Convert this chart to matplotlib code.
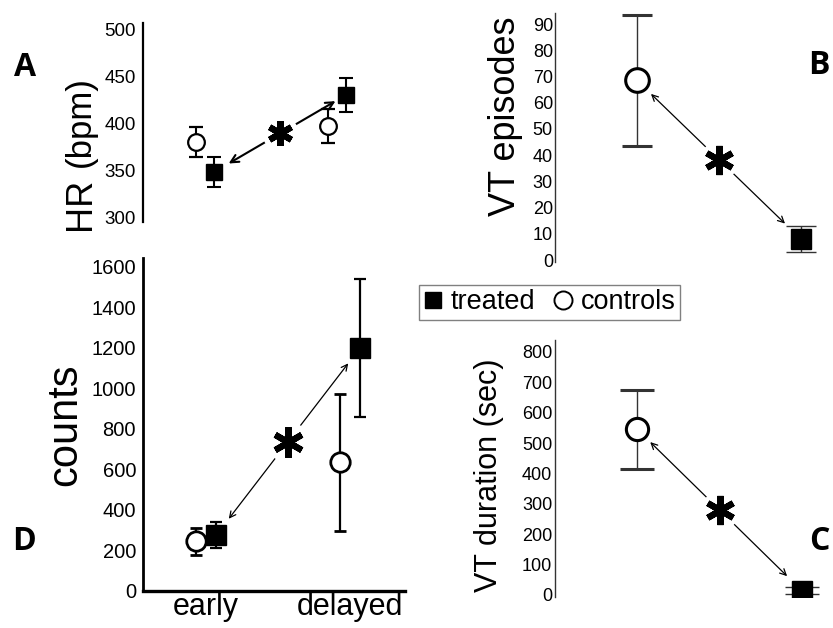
import matplotlib
matplotlib.use("Agg")
import matplotlib.pyplot as plt
from matplotlib.lines import Line2D

plt.rcParams['font.family'] = ['Liberation Sans', 'DejaVu Sans']

# ---- data ----
groups = ['early', 'delayed']

hr_controls = [380, 397]
hr_controls_err = [16, 18]
hr_treated = [348, 430]
hr_treated_err = [16, 18]

count_controls = [245, 635]
count_controls_err = [65, 340]
count_treated = [275, 1200]
count_treated_err = [65, 340]

# B and C: one value per group (controls, treated)
vt_episodes = [68.5, 8]
vt_episodes_err = [25, 5]
vt_duration = [545, 14]
vt_duration_err = [130, 11]

W, H = 833, 628
fig = plt.figure(figsize=(W / 100, H / 100), dpi=100)


def box(l, t, r, b):
    return [l / W, 1 - b / H, (r - l) / W, (b - t) / H]


def clean(ax, spine_lw, spine_col, fs, pad):
    for s in ['top', 'right', 'bottom']:
        ax.spines[s].set_visible(False)
    ax.spines['left'].set_linewidth(spine_lw)
    ax.spines['left'].set_color(spine_col)
    ax.set_xticks([])
    ax.tick_params(axis='y', length=0, labelsize=fs, pad=pad)
    ax.patch.set_alpha(0)


def star(ax, p1, p2, lw, sA, sB, ms, gap, mscale=11):
    ax.annotate('', xy=p2, xytext=p1,
                arrowprops=dict(arrowstyle='<->', color='black', lw=lw,
                                shrinkA=sA, shrinkB=sB, mutation_scale=mscale),
                zorder=2)
    mx, my = (p1[0] + p2[0]) / 2, (p1[1] + p2[1]) / 2
    ax.plot(mx, my, 'o', ms=gap, color='white', mec='none', zorder=3)
    ax.plot(mx, my, marker=(6, 2, 0), ms=ms, mew=4.5, color='black', zorder=4)


xc = [1, 2]
off = 0.07

# ---- A: heart rate ----
axA = fig.add_axes(box(143, 23, 400, 222))
clean(axA, 1.6, 'black', 13.5, 5)
axA.errorbar([x - off for x in xc], hr_controls, yerr=hr_controls_err, fmt='o',
             ms=12, mfc='white', mec='black', mew=1.6, color='black',
             elinewidth=1.5, capsize=4.7, capthick=1.5, zorder=5)
axA.errorbar([x + off for x in xc], hr_treated, yerr=hr_treated_err, fmt='s',
             ms=11, mfc='black', mec='black', color='black',
             elinewidth=1.5, capsize=4.7, capthick=1.5, zorder=5)
axA.set_xlim(0.53, 2.477)
axA.set_ylim(294.7, 506.4)
axA.set_yticks(range(300, 501, 50))
star(axA, (xc[0] + off, hr_treated[0]), (xc[1] + off, hr_treated[1]),
     1.5, 12, 9, 18, 26, 14)

# ---- B: VT episodes ----
axB = fig.add_axes(box(555, 13, 830, 262))
clean(axB, 1.0, '#333333', 13, 1.5)
axB.errorbar([xc[0]], [vt_episodes[0]], yerr=[vt_episodes_err[0]], fmt='o',
             ms=17, mfc='white', mec='black', mew=2.2, color='#333333',
             elinewidth=1.0, capsize=11, capthick=1.0, zorder=5)
axB.errorbar([xc[1]], [vt_episodes[1]], yerr=[vt_episodes_err[1]], fmt='s',
             ms=14, mfc='black', mec='black', color='#333333',
             elinewidth=1.0, capsize=11, capthick=1.0, zorder=5)
axB.set_xlim(0.5, 2.177)
axB.set_ylim(-0.76, 94.2)
axB.set_yticks(range(0, 91, 10))
star(axB, (xc[0], vt_episodes[0]), (xc[1], vt_episodes[1]),
     0.9, 14, 16, 21, 28)

# ---- D: counts ----
axD = fig.add_axes(box(143, 258, 405, 591))
for s in ['top', 'right']:
    axD.spines[s].set_visible(False)
axD.spines['left'].set_linewidth(2)
axD.spines['bottom'].set_linewidth(2.4)
axD.patch.set_alpha(0)
axD.tick_params(axis='both', length=0)
axD.tick_params(axis='y', labelsize=14.5, pad=5)
axD.tick_params(axis='x', labelsize=22, pad=1)
axD.errorbar([x - off for x in xc], count_controls, yerr=count_controls_err, fmt='o',
             ms=14, mfc='white', mec='black', mew=2, color='black',
             elinewidth=1.6, capsize=4.5, capthick=1.6, zorder=5)
axD.errorbar([x + off for x in xc], count_treated, yerr=count_treated_err, fmt='s',
             ms=14, mfc='black', mec='black', color='black',
             elinewidth=1.6, capsize=4.5, capthick=1.6, zorder=5)
axD.set_xlim(0.5625, 2.382)
axD.set_ylim(0, 1644)
axD.set_yticks(range(0, 1601, 200))
axD.set_xticks(xc)
axD.set_xticklabels(groups)
star(axD, (xc[0] + off, count_treated[0]), (xc[1] + off, count_treated[1]),
     0.9, 15, 14, 22, 30)

# ---- C: VT duration ----
axC = fig.add_axes(box(555, 340, 830, 597))
clean(axC, 1.0, '#333333', 13, 2)
axC.errorbar([xc[0]], [vt_duration[0]], yerr=[vt_duration_err[0]], fmt='o',
             ms=16, mfc='white', mec='black', mew=2.2, color='#333333',
             elinewidth=1.0, capsize=12, capthick=1.0, zorder=5)
axC.errorbar([xc[1]], [vt_duration[1]], yerr=[vt_duration_err[1]], fmt='s',
             ms=14, mfc='black', mec='black', color='#333333',
             elinewidth=1.0, capsize=12, capthick=1.0, zorder=5)
axC.set_xlim(0.5, 2.17)
axC.set_ylim(-6.6, 839.5)
axC.set_yticks(range(0, 801, 100))
star(axC, (xc[0], vt_duration[0]), (xc[1], vt_duration[1]),
     0.9, 13, 15, 21, 28)

# ---- axis titles (rotated) ----
def ylab(x, y, s, fs):
    fig.text(x / W, 1 - y / H, s, rotation=90, rotation_mode='anchor',
             ha='center', va='baseline', fontsize=fs)


ylab(90, 204, 'HR', 26)
ylab(90, 122, '(bpm)', 25)
ylab(515, 116, 'VT episodes', 26)
ylab(76, 425, 'counts', 30)
ylab(497, 475, 'VT duration (sec)', 22)

# ---- panel letters ----
for lab, x, y in [('A', 25, 68), ('B', 819, 66), ('D', 24, 542), ('C', 819, 541)]:
    fig.text(x / W, 1 - y / H, lab, ha='center', va='center',
             fontsize=23, fontweight='bold', family=['Open Sans', 'DejaVu Sans'])

# ---- legend ----
handles = [Line2D([], [], ls='none', marker='s', ms=12, color='black'),
           Line2D([], [], ls='none', marker='o', ms=13, mfc='white', mec='black', mew=1.4)]
leg = fig.legend(handles, ['treated', 'controls'], ncol=2, loc='center',
                 bbox_to_anchor=(549.5 / W, 1 - 302.5 / H), fontsize=19.5,
                 frameon=True, fancybox=False, edgecolor='#808080', framealpha=1,
                 handlelength=0.7, handletextpad=0.3, columnspacing=0.7,
                 borderpad=0.15, borderaxespad=0)
leg.get_frame().set_linewidth(1.0)

fig.savefig('out.png', dpi=100)
